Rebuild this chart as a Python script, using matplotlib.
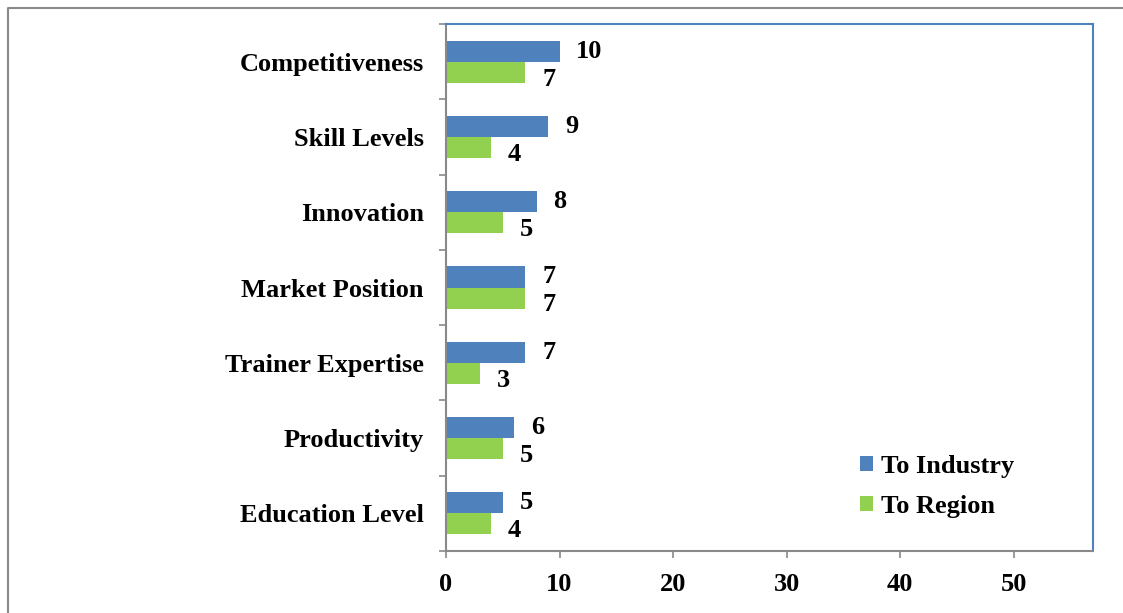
import matplotlib.pyplot as plt
import numpy as np
from matplotlib.lines import Line2D

categories = ['Competitiveness', 'Skill Levels', 'Innovation', 'Market Position',
              'Trainer Expertise', 'Productivity', 'Education Level']
to_industry = [10, 9, 8, 7, 7, 6, 5]
to_region = [7, 4, 5, 7, 3, 5, 4]
xticks = [0, 10, 20, 30, 40, 50]

blue = '#4F81BD'
green = '#92D050'
gray = '#898989'
fs = 19

plt.rcParams['font.family'] = ['Liberation Serif', 'DejaVu Serif']
plt.rcParams['font.weight'] = 'bold'

fig = plt.figure(figsize=(11.23, 6.13), dpi=100)
ax = fig.add_axes([446/1123, 1-551/613, (1093-446)/1123, (551-24)/613])

y = np.arange(len(categories))[::-1]
h = 0.28
ax.barh(y + h/2, to_industry, height=h, color=blue, label='To Industry')
ax.barh(y - h/2, to_region, height=h, color=green, label='To Region')

for yy, v in zip(y, to_industry):
    ax.annotate(str(v), (v, yy + h/2), xytext=(12, 0), textcoords='offset points',
                va='center', ha='left', fontsize=fs, fontweight='bold')
for yy, v in zip(y, to_region):
    ax.annotate(str(v), (v, yy - h/2), xytext=(12, -5), textcoords='offset points',
                va='center', ha='left', fontsize=fs, fontweight='bold')

ax.set_xlim(0, 57)
ax.set_ylim(-0.5, len(categories) - 0.5)
ax.set_xticks(xticks)
ax.set_xticklabels([str(t) for t in xticks], fontsize=fs, fontweight='bold')
ax.set_yticks(y)
ax.set_yticklabels(categories, fontsize=fs, fontweight='bold')
ax.set_yticks(np.arange(-0.5, len(categories), 1), minor=True)
ax.tick_params(axis='y', which='major', length=0, pad=16)
ax.tick_params(axis='y', which='minor', length=5, color=gray, width=1.2, direction='out')
ax.tick_params(axis='x', length=5, color=gray, width=1.2, direction='out', pad=11)

ax.spines['left'].set_color(gray)
ax.spines['bottom'].set_color(gray)
ax.spines['left'].set_linewidth(1.5)
ax.spines['bottom'].set_linewidth(1.5)
ax.spines['top'].set_color(blue)
ax.spines['right'].set_color(blue)
ax.spines['top'].set_linewidth(1.5)
ax.spines['right'].set_linewidth(1.5)

ax.legend(loc='upper left', bbox_to_anchor=((849-446)/(1093-446), 1-(444-24)/(551-24)),
          frameon=False, prop={'size': fs, 'weight': 'bold'},
          handlelength=0.5, handleheight=0.5, handletextpad=0.3,
          labelspacing=0.65, borderaxespad=0)

# outer frame
fig.add_artist(Line2D([8/1123, 8/1123, 1.0], [0, 1-8/613, 1-8/613],
                      transform=fig.transFigure, color=gray, linewidth=1.5))

fig.savefig('out.png', dpi=100)
